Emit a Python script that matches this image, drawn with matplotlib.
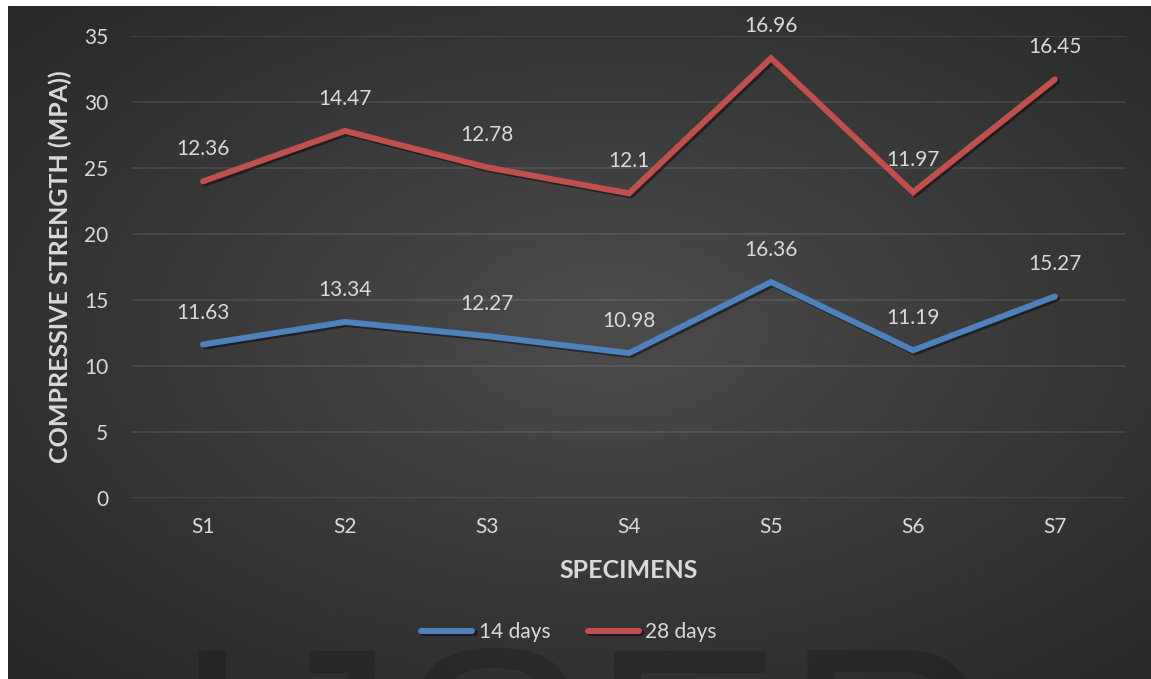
import matplotlib
matplotlib.use("Agg")
import matplotlib.pyplot as plt
import matplotlib.patheffects as pe
import numpy as np

# compressive strength per specimen (MPa)
specimens = ["S1", "S2", "S3", "S4", "S5", "S6", "S7"]
strength_14 = [11.63, 13.34, 12.27, 10.98, 16.36, 11.19, 15.27]
strength_28 = [12.36, 14.47, 12.78, 12.1, 16.96, 11.97, 16.45]
series_names = ["14 days", "28 days"]
y_ticks = [0, 5, 10, 15, 20, 25, 30, 35]

plt.rcParams["font.family"] = ["Lato", "DejaVu Sans"]
TXT = "#d9d9d9"
BLUE = "#4f81bd"
RED = "#c0504d"

W, H = 1151, 679
fig = plt.figure(figsize=(W / 100, H / 100), dpi=100)
fig.patch.set_facecolor("white")

# dark panel with a soft radial highlight
pw, ph = W - 8, H - 6
bg = fig.add_axes([8 / W, 0, pw / W, ph / H])
bg.set_zorder(-2)
yy, xx = np.mgrid[0:ph, 0:pw]
cx, cy = 600, 320
r = np.sqrt(((xx - cx) / 600.0) ** 2 + ((yy - cy) / 350.0) ** 2) / np.sqrt(2)
v = (76 - 38 * np.clip(r, 0, 1)) / 255.0
bg.imshow(np.dstack([v, v, v]), aspect="auto", interpolation="bilinear")
bg.axis("off")

# watermark
fig.text(171 / W, 1 - 850 / H, "IJSER", fontsize=209, family="Liberation Sans",
         color="black", alpha=0.17, ha="left", va="baseline", zorder=-1)

ax = fig.add_axes([132 / W, 1 - 498 / H, 994 / W, 462 / H])
ax.set_facecolor("none")
for s in ax.spines.values():
    s.set_visible(False)

x = np.arange(1, len(specimens) + 1)
top = np.add(strength_14, strength_28)

shadow = [pe.SimpleLineShadow(offset=(1.5, -1.5), shadow_color="black", alpha=0.45),
          pe.Normal()]
l1, = ax.plot(x, strength_14, color=BLUE, lw=4.3, solid_capstyle="round",
              solid_joinstyle="miter", path_effects=shadow, label=series_names[0])
l2, = ax.plot(x, top, color=RED, lw=4.3, solid_capstyle="round",
              solid_joinstyle="miter", path_effects=shadow, label=series_names[1])

for xi, yv, lab in zip(x, strength_14, strength_14):
    ax.annotate(f"{lab:g}", (xi, yv), xytext=(0, 23), textcoords="offset points",
                ha="center", va="center", color=TXT, fontsize=15)
for xi, yv, lab in zip(x, top, strength_28):
    ax.annotate(f"{lab:g}", (xi, yv), xytext=(0, 23), textcoords="offset points",
                ha="center", va="center", color=TXT, fontsize=15)

ax.set_xlim(0.5, len(specimens) + 0.5)
ax.set_ylim(0, 35)
ax.set_xticks(x)
ax.set_xticklabels(specimens)
ax.set_yticks(y_ticks)
ax.grid(axis="y", color="white", alpha=0.1, lw=1.2)
ax.set_axisbelow(True)
ax.tick_params(axis="both", length=0, colors=TXT, labelsize=15)
ax.tick_params(axis="y", pad=17)
ax.tick_params(axis="x", pad=14)

ax.set_xlabel("SPECIMENS", fontsize=18, fontweight="bold", color=TXT)
ax.xaxis.label.set_va("center")
ax.xaxis.set_label_coords(0.5, (498 - 571) / 462)
ax.set_ylabel("COMPRESSIVE STRENGTH (MPA))", fontsize=18, fontweight="bold", color=TXT)
ax.yaxis.label.set_va("center")
ax.yaxis.set_label_coords((60 - 132) / 994, 0.5)

fig.legend(handles=[l1, l2], loc="center", bbox_to_anchor=(569 / W, 1 - 632 / H),
           ncol=2, frameon=False, fontsize=15, labelcolor=TXT, handlelength=2.45,
           handletextpad=0.3, columnspacing=1.8)

fig.savefig("out.png", dpi=100)
